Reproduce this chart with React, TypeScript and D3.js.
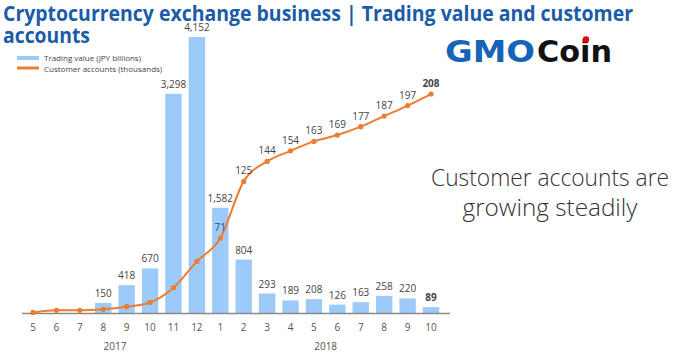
import React from "react";
import * as d3 from "d3";

const months = ["5", "6", "7", "8", "9", "10", "11", "12", "1", "2", "3", "4", "5", "6", "7", "8", "9", "10"];
const keys = months.map((m, i) => `${i}`);
const tradingValue = [0, 0, 0, 150, 418, 670, 3298, 4152, 1582, 804, 293, 189, 208, 126, 163, 258, 220, 89];
const customerAccounts = [0.5, 2.5, 2.5, 3.5, 6, 10, 24, 49, 71, 125, 144, 154, 163, 169, 177, 187, 197, 208];
const showLineLabel = [false, false, false, false, false, false, false, false, true, true, true, true, true, true, true, true, true, true];
const years = [
  { label: "2017", from: 0, to: 7 },
  { label: "2018", from: 8, to: 17 },
];
const legendItems = ["Trading value (JPY billions)", "Customer accounts (thousands)"];

const W = 696;
const H = 364;
const BAR = "#9dcbf9";
const LINE = "#ec7c30";

export default function App() {
  const x = d3.scaleBand<string>().domain(keys).range([21.3, 442.7]).paddingInner(0.3).paddingOuter(0.15);
  const yBar = d3.scaleLinear().domain([0, 4152]).range([313, 37]);
  const yLine = d3.scaleLinear().domain([0, 208]).range([313, 94]);
  const cx = (i: number) => (x(keys[i]) as number) + x.bandwidth() / 2;
  const line = d3
    .line<number>()
    .x((_, i) => cx(i))
    .y((d) => yLine(d))
    .curve(d3.curveMonotoneX);
  const font = "'Open Sans', 'DejaVu Sans', sans-serif";

  return (
    <svg width={W} height={H} style={{ position: "absolute", left: 0, top: 0, background: "#fff" }} fontFamily={font}>
      <rect width={W} height={H} fill="#fff" />
      {/* title */}
      <text x={3} y={21} fontSize={21} fontWeight={700} fill="#1b5ca8" textLength={630} lengthAdjust="spacingAndGlyphs">
        Cryptocurrency exchange business | Trading value and customer
      </text>
      <text x={3} y={43} fontSize={21} fontWeight={700} fill="#1b5ca8" textLength={87} lengthAdjust="spacingAndGlyphs">
        accounts
      </text>
      {/* logo */}
      <text x={445} y={62} fontSize={30} fontWeight={800} fill="#1763b8" fontFamily="'DejaVu Sans', sans-serif" textLength={90} lengthAdjust="spacingAndGlyphs">
        GMO
      </text>
      <text x={537} y={62} fontSize={30} fontWeight={700} fill="#111" fontFamily="'DejaVu Sans', sans-serif" textLength={75} lengthAdjust="spacingAndGlyphs">
        Coin
      </text>
      <circle cx={586} cy={39.5} r={3.2} fill="#e60012" />
      {/* legend */}
      <rect x={17} y={56} width={22} height={4} fill={BAR} />
      <text x={44} y={61} fontSize={8} fill="#444">{legendItems[0]}</text>
      <rect x={17} y={66.5} width={22} height={3} fill={LINE} />
      <text x={44} y={72} fontSize={8} fill="#444">{legendItems[1]}</text>
      {/* bars */}
      {tradingValue.map((v, i) =>
        v > 0 ? (
          <rect key={`b${i}`} x={x(keys[i])} y={yBar(v)} width={x.bandwidth()} height={yBar(0) - yBar(v)} fill={BAR} />
        ) : null
      )}
      {tradingValue.map((v, i) =>
        v > 0 ? (
          <text
            key={`bl${i}`}
            x={cx(i)}
            y={yBar(v) - 6}
            textAnchor="middle"
            fontSize={10}
            fontWeight={i === tradingValue.length - 1 ? 700 : 400}
            fill="#444"
          >
            {d3.format(",")(v)}
          </text>
        ) : null
      )}
      {/* axis */}
      <line x1={22} x2={450} y1={313.5} y2={313.5} stroke="#8a8a8a" strokeWidth={1.5} />
      {months.map((m, i) => (
        <text key={`m${i}`} x={cx(i)} y={331} textAnchor="middle" fontSize={10} fill="#555">
          {m}
        </text>
      ))}
      {years.map((yr) => (
        <text key={yr.label} x={(cx(yr.from) + cx(yr.to)) / 2} y={350} textAnchor="middle" fontSize={10} fill="#555">
          {yr.label}
        </text>
      ))}
      {/* line */}
      <path d={line(customerAccounts) || ""} fill="none" stroke={LINE} strokeWidth={2} />
      {customerAccounts.map((v, i) => (
        <circle key={`p${i}`} cx={cx(i)} cy={yLine(v)} r={2.6} fill={LINE} />
      ))}
      {customerAccounts.map((v, i) =>
        showLineLabel[i] ? (
          <text
            key={`pl${i}`}
            x={cx(i)}
            y={yLine(v) - 7}
            textAnchor="middle"
            fontSize={10}
            fontWeight={i === customerAccounts.length - 1 ? 700 : 400}
            fill={i === 8 ? "#2a4f7a" : "#444"}
          >
            {v}
          </text>
        ) : null
      )}
      {/* annotation */}
      <text x={550} y={186} textAnchor="middle" fontSize={24} fontWeight={300} fill="#333" textLength={238} lengthAdjust="spacingAndGlyphs">
        Customer accounts are
      </text>
      <text x={550} y={216} textAnchor="middle" fontSize={24} fontWeight={300} fill="#333" textLength={175} lengthAdjust="spacingAndGlyphs">
        growing steadily
      </text>
    </svg>
  );
}
